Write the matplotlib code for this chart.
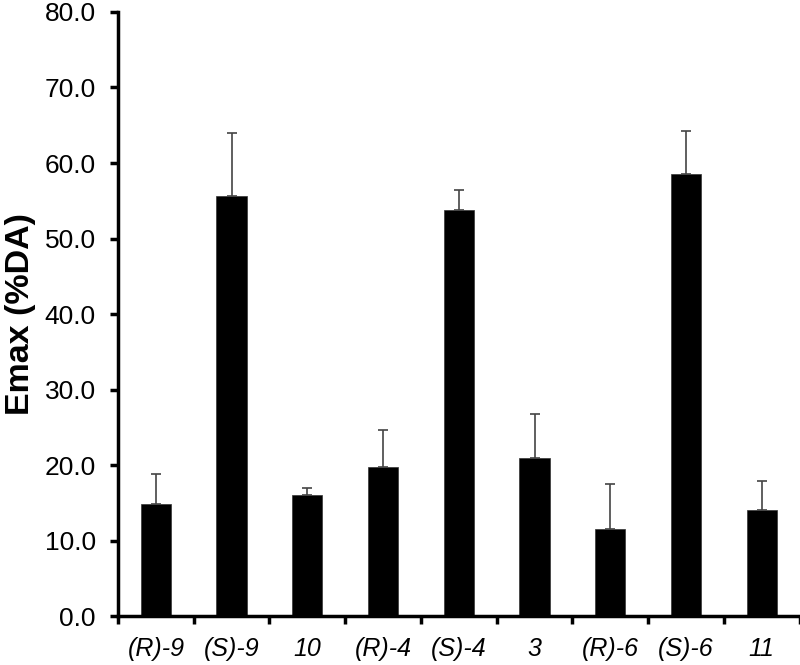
import matplotlib
matplotlib.use("Agg")
import matplotlib.pyplot as plt
import numpy as np

categories = ["(R)-9", "(S)-9", "10", "(R)-4", "(S)-4", "3", "(R)-6", "(S)-6", "11"]
values = [14.9, 55.6, 16.0, 19.8, 53.8, 20.9, 11.5, 58.5, 14.1]
errors = [3.9, 8.4, 1.0, 4.8, 2.6, 5.8, 6.0, 5.8, 3.8]
y_ticks = [0, 10, 20, 30, 40, 50, 60, 70, 80]

plt.rcParams['font.family'] = ['Liberation Sans', 'DejaVu Sans']

fig = plt.figure(figsize=(8, 6.65), dpi=100)
ax = fig.add_axes([0.1475, 0.0735, 0.852, 0.9085])

x = np.arange(len(categories))
ax.bar(x, values, width=0.4, color='black', edgecolor='#333333', linewidth=0.5, zorder=2)
ax.errorbar(x, values, yerr=[np.zeros(len(errors)), errors], fmt='none',
            ecolor='#444444', elinewidth=1.2, capsize=3.6, capthick=1.2, zorder=3)

ax.set_xlim(-0.5, len(categories) - 0.5)
ax.set_ylim(0, 80)
ax.set_yticks(y_ticks)
ax.set_yticklabels([f"{t:.1f}" for t in y_ticks], fontsize=19)
ax.set_xticks(x)
ax.set_xticklabels(categories, fontsize=18, fontstyle='italic')
ax.set_xticks(np.arange(-0.5, len(categories), 1.0), minor=True)
ax.tick_params(axis='x', which='major', length=0, pad=15)
ax.tick_params(axis='x', which='minor', length=6, width=2.5, direction='out')
ax.tick_params(axis='y', which='major', length=6, width=2.5, direction='out', pad=10)

ax.set_ylabel("Emax (%DA)", fontsize=24.5, fontweight='bold', labelpad=6)

for s in ['top', 'right']:
    ax.spines[s].set_visible(False)
for s in ['left', 'bottom']:
    ax.spines[s].set_linewidth(2.5)

fig.savefig("out.png", dpi=100)
